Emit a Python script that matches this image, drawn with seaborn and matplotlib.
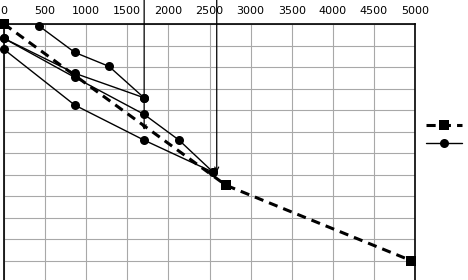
import matplotlib
matplotlib.use("Agg")
import matplotlib.pyplot as plt
import seaborn as sns
from matplotlib.lines import Line2D

# dashed reference curve (square markers)
ref_x = [0, 2700, 4950]
ref_y = [0.0, 7.5, 11.0]

# solid measured curves (circle markers)
a_x = [426, 860, 1277, 1703]
a_y = [0.09, 1.32, 1.97, 3.43]
b_x = [0, 860, 1703]
b_y = [0.67, 2.29, 3.43]
c_x = [0, 860, 1703, 2129, 2547]
c_y = [0.67, 2.48, 4.2, 5.4, 6.9]
d_x = [0, 860, 1703, 2547]
d_y = [1.18, 3.77, 5.4, 6.9]

# annotation arrows (x, tip depth) - their text sits above the figure
arrows = [(1705, 4.93), (2588, 6.9)]

x_ticks = [0, 500, 1000, 1500, 2000, 2500, 3000, 3500, 4000, 4500, 5000]

sns.set_style("white")
fig = plt.figure(figsize=(4.68, 2.80), dpi=100)
ax = fig.add_axes([4 / 468, -2 / 280, 411 / 468, 258 / 280])

sns.lineplot(x=ref_x, y=ref_y, ax=ax, sort=False, estimator=None, color="black",
             linestyle=(0, (3, 2)), linewidth=2.2, marker="s", markersize=6.5,
             markeredgewidth=0, clip_on=False, zorder=3)
for xs, ys in [(a_x, a_y), (b_x, b_y), (c_x, c_y), (d_x, d_y)]:
    sns.lineplot(x=xs, y=ys, ax=ax, sort=False, estimator=None, color="black",
                 linewidth=1.0, marker="o", markersize=6.5, markeredgewidth=0,
                 clip_on=False, zorder=3)

for ax_x, tip in arrows:
    ax.annotate("", xy=(ax_x, tip), xytext=(ax_x, -3), annotation_clip=False,
                arrowprops=dict(arrowstyle="->", color="black", lw=0.9,
                                shrinkA=0, shrinkB=0, mutation_scale=7))

ax.set_xlim(0, 5000)
ax.set_ylim(12, 0)
ax.set_xticks(x_ticks)
ax.set_yticks(range(0, 13))
ax.set_yticklabels([])
ax.xaxis.tick_top()
ax.tick_params(axis="x", length=0, pad=6, labelsize=8, colors="black")
ax.tick_params(axis="y", length=0)
ax.grid(True, color="#a8a8a8", linewidth=0.8)
ax.set_xlabel("")
ax.set_ylabel("")
for side in ["left", "top", "right"]:
    ax.spines[side].set_color("black")
    ax.spines[side].set_linewidth(1.2)
ax.spines["bottom"].set_visible(False)

handles = [
    Line2D([], [], color="black", linestyle=(0, (3, 2)), linewidth=2.2, marker="s",
           markersize=6.5, markeredgewidth=0),
    Line2D([], [], color="black", linewidth=1.0, marker="o", markersize=6.5,
           markeredgewidth=0),
]
fig.legend(handles, [" ", " "], loc="center left", bbox_to_anchor=(421 / 468, 1 - 135 / 280),
           frameon=False, handlelength=3.4, labelspacing=0.75, fontsize=7.5,
           borderpad=0, handletextpad=0.2)

fig.savefig("out.png", dpi=100)
